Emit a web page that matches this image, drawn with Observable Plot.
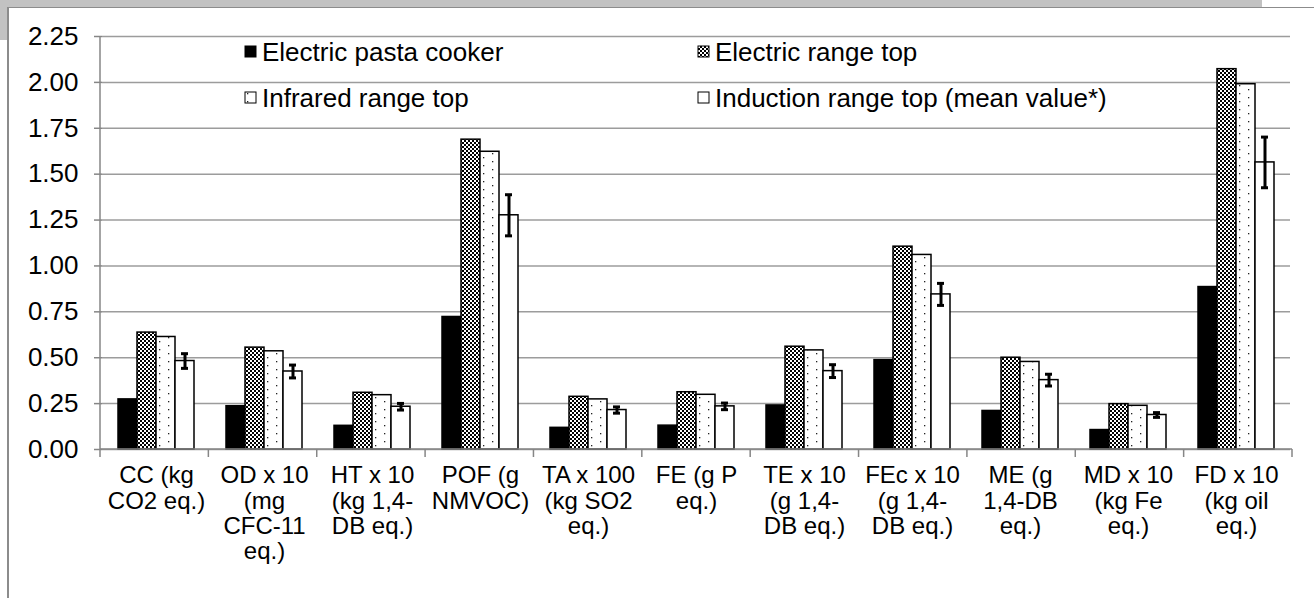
<!DOCTYPE html>
<html>
<head>
<meta charset="utf-8">
<script src="https://cdn.jsdelivr.net/npm/d3@7"></script>
<script src="https://cdn.jsdelivr.net/npm/@observablehq/plot@0.6"></script>
<style>
  html, body { margin: 0; padding: 0; background: #fff; }
  #wrap { position: relative; width: 1314px; height: 598px; overflow: hidden; font-family: "Liberation Sans", Arial, sans-serif; }
  #chart { position: absolute; left: 0; top: 0; }
  .deco { position: absolute; }
</style>
</head>
<body>
<div id="wrap">
  <div id="chart"></div>
  <div class="deco" style="left:0;top:0;width:1262px;height:7px;background:#c2c2c2"></div>
  <div class="deco" style="left:0;top:0;width:8px;height:40px;background:#c2c2c2"></div>
  <div class="deco" style="left:8px;top:7px;width:1306px;height:1px;background:#8c8c8c"></div>
  <div class="deco" style="left:7px;top:7px;width:2px;height:591px;background:#8c8c8c"></div>
</div>
<script>
// ---- data ----
const categories = ["CC", "OD", "HT", "POF", "TA", "FE", "TE", "FEc", "ME", "MD", "FD"];
const categoryLabels = [
  "CC (kg\nCO2 eq.)",
  "OD x 10\n(mg\nCFC-11\neq.)",
  "HT x 10\n(kg 1,4-\nDB eq.)",
  "POF (g\nNMVOC)",
  "TA x 100\n(kg SO2\neq.)",
  "FE (g P\neq.)",
  "TE x 10\n(g 1,4-\nDB eq.)",
  "FEc x 10\n(g 1,4-\nDB eq.)",
  "ME (g\n1,4-DB\neq.)",
  "MD x 10\n(kg Fe\neq.)",
  "FD x 10\n(kg oil\neq.)"
];
const series = ["Electric pasta cooker", "Electric range top", "Infrared range top", "Induction range top (mean value*)"];
const pastaCooker   = [0.273, 0.236, 0.129, 0.722, 0.118, 0.130, 0.240, 0.487, 0.210, 0.106, 0.885];
const electricRange = [0.637, 0.555, 0.309, 1.688, 0.287, 0.312, 0.560, 1.105, 0.500, 0.247, 2.072];
const infraredRange = [0.613, 0.535, 0.296, 1.622, 0.273, 0.298, 0.540, 1.060, 0.477, 0.238, 1.990];
const inductionRange = [0.482, 0.425, 0.233, 1.276, 0.215, 0.235, 0.427, 0.845, 0.378, 0.188, 1.564];
const inductionError = [0.040, 0.035, 0.018, 0.112, 0.017, 0.018, 0.035, 0.060, 0.032, 0.013, 0.138];
const yTicks = [0, 0.25, 0.5, 0.75, 1, 1.25, 1.5, 1.75, 2, 2.25];

// ---- tables ----
const seriesValues = [pastaCooker, electricRange, infraredRange, inductionRange];
const rowsFor = (j) => categories.map((c, i) => ({cat: c, series: series[j], value: seriesValues[j][i]}));
const errRows = categories.map((c, i) => ({
  cat: c, series: series[3],
  lo: inductionRange[i] - inductionError[i],
  hi: inductionRange[i] + inductionError[i]
}));
const labelOf = new Map(categories.map((c, i) => [c, categoryLabels[i]]));
const fills = ["#000", "url(#checker)", "url(#dots)", "#fff"];
const font = '"Liberation Sans", Arial, sans-serif';

const barOpts = {fx: "cat", x: "series", y: "value", stroke: "#000", strokeWidth: 1.5};

const plot = Plot.plot({
  width: 1314,
  height: 598,
  marginLeft: 100,
  marginRight: 22,
  marginTop: 36,
  marginBottom: 149,
  style: {background: "transparent", fontFamily: font, color: "#000", overflow: "visible"},
  fx: {domain: categories, padding: 0, label: null, axis: null},
  x: {domain: series, paddingInner: 0, paddingOuter: 0.75, axis: null},
  y: {domain: [0, 2.25], axis: null},
  marks: [
    Plot.gridY(yTicks, {stroke: "#9c9c9c", strokeOpacity: 1, strokeWidth: 1.5}),
    ...[0, 1, 2, 3].map(j => Plot.barY(rowsFor(j), {...barOpts, fill: fills[j]})),
    Plot.ruleX(errRows, {fx: "cat", x: "series", y1: "lo", y2: "hi", stroke: "#000", strokeWidth: 3}),
    Plot.tickY(errRows, {fx: "cat", x: "series", y: "lo", stroke: "#000", strokeWidth: 3, insetLeft: 6, insetRight: 6}),
    Plot.tickY(errRows, {fx: "cat", x: "series", y: "hi", stroke: "#000", strokeWidth: 3, insetLeft: 6, insetRight: 6}),
    Plot.axisY({
      ticks: yTicks, tickFormat: d3.format(".2f"), tickSize: 8, tickPadding: 16,
      fontSize: 26, stroke: "#868686", strokeWidth: 1.5, fill: "#000", label: null
    }),
    Plot.axisFx({
      anchor: "bottom", tickSize: 0, tickPadding: 16, fontSize: 24, lineHeight: 1.05,
      tickFormat: d => labelOf.get(d), fill: "#000", label: null
    })
  ]
});

document.getElementById("chart").appendChild(plot);
const svg = d3.select(plot.tagName.toLowerCase() === "svg" ? plot : plot.querySelector("svg"));

// patterns
const defs = svg.insert("defs", ":first-child");
const chk = defs.append("pattern").attr("id", "checker").attr("patternUnits", "userSpaceOnUse")
  .attr("width", 4).attr("height", 4);
chk.append("rect").attr("width", 4).attr("height", 4).attr("fill", "#000");
chk.append("rect").attr("x", 0).attr("y", 0).attr("width", 2).attr("height", 2).attr("fill", "#fff");
chk.append("rect").attr("x", 2).attr("y", 2).attr("width", 2).attr("height", 2).attr("fill", "#fff");
const dots = defs.append("pattern").attr("id", "dots").attr("patternUnits", "userSpaceOnUse")
  .attr("width", 18).attr("height", 8);
dots.append("rect").attr("width", 18).attr("height", 8).attr("fill", "#fff");
dots.append("rect").attr("x", 4).attr("y", 1).attr("width", 1.3).attr("height", 1.3).attr("fill", "#222");
dots.append("rect").attr("x", 13).attr("y", 5).attr("width", 1.3).attr("height", 1.3).attr("fill", "#222");

// axis lines and category boundary ticks from the plot's own scales
const fxs = plot.scale("fx");
const ys = plot.scale("y");
const fxScale = d3.scaleBand(fxs.domain, fxs.range)
  .paddingInner(fxs.paddingInner ?? 0).paddingOuter(fxs.paddingOuter ?? 0).align(fxs.align ?? 0.5);
const yScale = d3.scaleLinear(ys.domain, ys.range);
const y0 = yScale(0), yTop = yScale(2.25);
const axes = svg.append("g").attr("stroke", "#868686").attr("stroke-width", 1.5);
const left = fxScale(categories[0]);
const right = fxScale(categories[categories.length - 1]) + fxScale.bandwidth();
axes.append("line").attr("x1", left).attr("x2", left).attr("y1", yTop).attr("y2", y0);
axes.append("line").attr("x1", left).attr("x2", right).attr("y1", y0).attr("y2", y0);
const bounds = categories.map(c => fxScale(c)).concat([right]);
axes.selectAll("line.b").data(bounds).join("line").attr("class", "b")
  .attr("x1", d => d).attr("x2", d => d).attr("y1", y0).attr("y2", y0 + 8);

// legend (inside the plot area, no background)
const legendPos = [[245, 61], [698, 61], [245, 107], [698, 107]];
const lg = svg.append("g").attr("font-family", font).attr("font-size", 26).attr("text-anchor", "start");
series.forEach((s, j) => {
  const [lx, ly] = legendPos[j];
  lg.append("rect").attr("x", lx).attr("y", ly - 15).attr("width", 11).attr("height", 11)
    .attr("fill", fills[j]).attr("stroke", "#000").attr("stroke-width", 1);
  lg.append("text").attr("x", lx + 17).attr("y", ly).attr("text-anchor", "start").attr("fill", "#000").text(s);
});
</script>
</body>
</html>
